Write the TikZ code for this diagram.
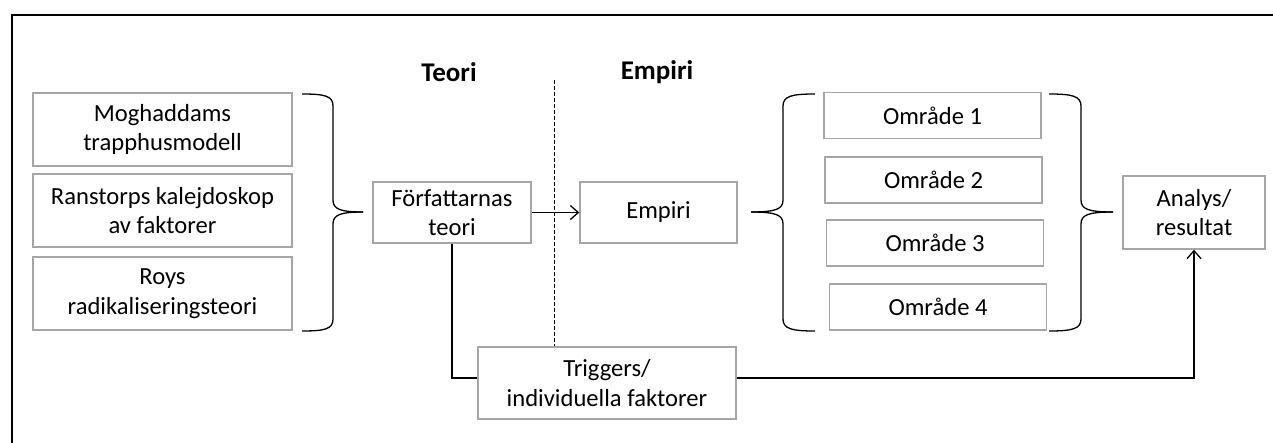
\documentclass[tikz,border=0pt]{standalone}
\usepackage{fontspec}
\setmainfont{Carlito}
\usetikzlibrary{arrows.meta}

\tikzset{
  box/.style={draw=gray!70, line width=0.7pt, fill=white, align=center, inner sep=0pt,
    font=\fontsize{12.3}{14.8}\selectfont},
  head/.style={font=\bfseries\fontsize{13.5}{16}\selectfont},
  bracel/.style={line width=0.65pt},
  link/.style={line width=0.65pt, -{Straight Barb[length=4pt, width=7pt]}}
}

\begin{document}
\begin{tikzpicture}[x=0.5pt, y=-0.5pt]
	\useasboundingbox (0,0) rectangle (1273,443);
	\draw[line width=0.7pt](1273,15)--(12,15)--(12,443);
	% headings and divider
	\node[head] (teorih) at (449,72) {Teori};
	\node[head] (empirih) at (657,72) {Empiri};
	\draw[dashed, dash pattern=on 2pt off 1pt, line width=0.4pt](554,80)--(554,347);
	% theory boxes
	\node[box, minimum width=129.5pt, minimum height=36.5pt] (mogh) at (162.5,129.5) {Moghaddams\\trapphusmodell};
	\node[box, minimum width=129.5pt, minimum height=36.5pt] (ranst) at (162.5,210.5) {Ranstorps kalejdoskop\\av faktorer};
	\node[box, minimum width=129.5pt, minimum height=36.5pt] (roys) at (162.5,293.5) {Roys\\radikaliseringsteori};
	\node[box, minimum width=79pt, minimum height=30.5pt] (teori) at (452,212.5) {Författarnas\\teori};
	\node[box, minimum width=78.5pt, minimum height=30.5pt] (empiri) at (658.5,212.5) {Empiri};
	\node[box, minimum width=129pt, minimum height=36pt] (trig) at (607,383) {Triggers/\\individuella faktorer};
	\foreach \i/\x/\y in {1/932.5/115.5, 2/933.5/180, 3/935/243, 4/938/307}
	    \node[box, minimum width=108.5pt, minimum height=23pt] (omr\i) at (\x,\y) {Område \i};
	\node[box, minimum width=71pt, minimum height=36.5pt] (analys) at (1194,212.5) {Analys/\\resultat};
	% braces
	\draw[bracel](302,94) .. controls (325,94) and (333,96) .. (333,106)--(333,200) .. controls (333,209) and (340,212) .. (363,212);
	\draw[bracel](363,212) .. controls (340,212) and (333,215) .. (333,224)--(333,319) .. controls (333,329) and (325,331) .. (302,331);
	\draw[bracel](815,94) .. controls (792,94) and (783,96) .. (783,106)--(783,200) .. controls (783,209) and (776,212) .. (751,212);
	\draw[bracel](751,212) .. controls (776,212) and (783,215) .. (783,224)--(783,319) .. controls (783,329) and (792,331) .. (815,331);
	\draw[bracel](1049,94) .. controls (1072,94) and (1081,96) .. (1081,106)--(1081,200) .. controls (1081,209) and (1088,212) .. (1113,212);
	\draw[bracel](1113,212) .. controls (1088,212) and (1081,215) .. (1081,224)--(1081,319) .. controls (1081,329) and (1072,331) .. (1049,331);
	% connectors
	\draw[link](teori)--(empiri);
	\draw[line width=0.65pt](teori.south) |- ([yshift=2.5pt]trig.west);
	\draw[link]([yshift=2.5pt]trig.east) -| (analys.south);
\end{tikzpicture}
\end{document}
